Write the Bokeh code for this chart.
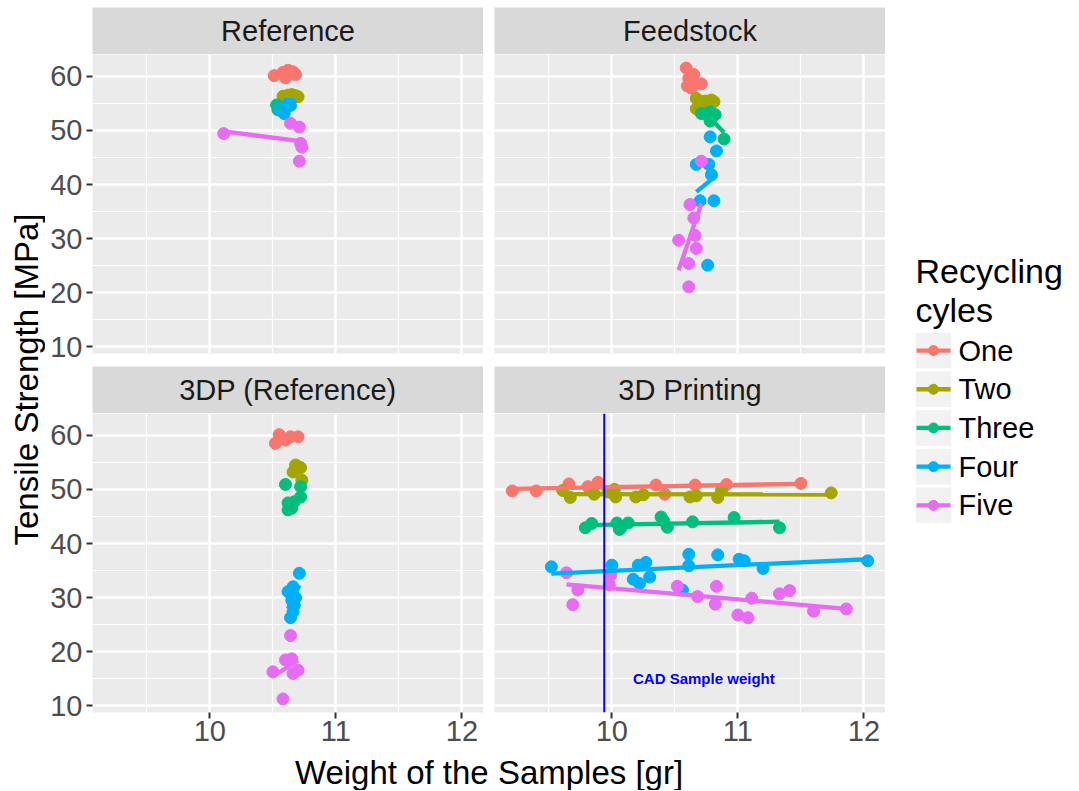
import numpy as np
from bokeh.plotting import figure
from bokeh.layouts import row, column
from bokeh.models import Range1d, FixedTicker, Span
from bokeh.core.properties import value
from bokeh.embed import file_html
from bokeh.resources import INLINE

# ---------------- data ----------------
cycles = ["One", "Two", "Three", "Four", "Five"]
cycle_colors = ["#F8766D", "#A3A500", "#00BF7D", "#00B0F6", "#E76BF3"]
panel_titles = ["Reference", "Feedstock", "3DP (Reference)", "3D Printing"]
x_ticks = [10, 11, 12]
x_minor = [9.5, 10.5, 11.5]
y_ticks = [10, 20, 30, 40, 50, 60]
y_minor = [15, 25, 35, 45, 55]
cad_weight = 9.94
cad_label = "CAD Sample weight"
cad_label_x = 10.73
cad_label_y = 15.0
x_title = "Weight of the Samples [gr]"
y_title = "Tensile Strength [MPa]"
legend_title = ["Recycling", "cyles"]

reference_w = {
    "One": [10.51, 10.58, 10.60, 10.62, 10.66, 10.68, 10.64],
    "Two": [10.58, 10.62, 10.65, 10.68, 10.70, 10.66],
    "Three": [10.53, 10.54, 10.56],
    "Four": [10.55, 10.58, 10.60, 10.63, 10.64, 10.59],
    "Five": [10.11, 10.64, 10.71, 10.72, 10.73, 10.71],
}
reference_s = {
    "One": [60.1, 60.7, 59.7, 61.1, 60.8, 60.3, 60.9],
    "Two": [56.3, 56.5, 56.6, 56.4, 56.2, 56.1],
    "Three": [54.7, 53.8, 54.2],
    "Four": [54.0, 53.4, 54.3, 55.3, 54.6, 53.1],
    "Five": [49.4, 51.3, 50.6, 47.6, 46.9, 44.3],
}
feedstock_w = {
    "One": [10.59, 10.65, 10.61, 10.60, 10.71, 10.65, 10.63],
    "Two": [10.67, 10.74, 10.79, 10.81, 10.67, 10.72],
    "Three": [10.71, 10.78, 10.82, 10.78, 10.89, 10.74],
    "Four": [10.78, 10.83, 10.67, 10.77, 10.79, 10.70, 10.81, 10.76],
    "Five": [10.71, 10.62, 10.65, 10.66, 10.53, 10.67, 10.61, 10.61],
}
feedstock_s = {
    "One": [61.5, 60.3, 59.6, 58.2, 58.6, 58.5, 57.8],
    "Two": [55.9, 55.4, 55.6, 55.3, 54.0, 54.3],
    "Three": [53.1, 53.4, 52.9, 51.7, 48.4, 53.0],
    "Four": [48.8, 46.2, 43.7, 43.7, 41.8, 37.0, 37.0, 25.1],
    "Five": [44.3, 36.3, 33.8, 30.6, 29.7, 28.2, 25.4, 21.1],
}
dp_ref_w = {
    "One": [10.55, 10.52, 10.60, 10.64, 10.70, 10.58],
    "Two": [10.68, 10.72, 10.66, 10.73, 10.70],
    "Three": [10.60, 10.72, 10.72, 10.62, 10.67, 10.62, 10.65, 10.64],
    "Four": [10.71, 10.62, 10.66, 10.68, 10.67, 10.66, 10.64, 10.65],
    "Five": [10.64, 10.60, 10.65, 10.70, 10.50, 10.66, 10.58],
}
dp_ref_s = {
    "One": [60.1, 58.5, 59.1, 59.7, 59.7, 59.4],
    "Two": [54.5, 54.0, 53.2, 51.7, 54.2],
    "Three": [50.9, 50.5, 48.6, 47.5, 47.7, 46.2, 46.5, 47.0],
    "Four": [34.5, 31.1, 32.0, 30.0, 28.6, 27.4, 26.3, 29.5],
    "Five": [23.0, 18.5, 18.7, 16.6, 16.3, 16.0, 11.3],
}
printing_w = {
    "One": [9.21, 9.40, 9.66, 9.81, 9.89, 10.35, 10.42, 10.66, 10.91, 11.50],
    "Two": [9.61, 9.67, 9.86, 9.97, 10.02, 10.03, 10.19, 10.25, 10.62, 10.67, 10.84, 10.87, 11.74],
    "Three": [9.79, 9.84, 10.04, 10.06, 10.07, 10.13, 10.39, 10.41, 10.44, 10.64, 10.97, 11.33],
    "Four": [9.52, 10.00, 10.21, 10.27, 10.17, 10.22, 10.30, 10.56, 10.61, 10.61, 10.84, 11.01, 11.05, 11.20, 12.03],
    "Five": [9.64, 9.73, 9.69, 9.99, 9.98, 10.52, 10.68, 10.83, 10.82, 11.00, 11.08, 11.11, 11.33, 11.41, 11.60, 11.86],
}
printing_s = {
    "One": [49.7, 49.7, 51.0, 50.5, 51.3, 50.8, 49.1, 50.8, 50.9, 51.1],
    "Two": [49.8, 48.5, 49.1, 49.5, 50.0, 48.6, 48.6, 49.0, 48.6, 48.8, 48.5, 49.8, 49.35],
    "Three": [42.9, 43.7, 43.8, 42.6, 42.8, 43.8, 44.9, 44.2, 43.0, 44.0, 44.8, 42.9],
    "Four": [35.7, 36.0, 36.0, 36.5, 33.4, 32.6, 33.8, 31.4, 38.0, 35.9, 37.9, 37.1, 36.8, 35.4, 36.8],
    "Five": [34.6, 31.4, 28.7, 34.1, 32.4, 32.1, 30.2, 32.1, 28.8, 26.8, 26.3, 29.9, 30.7, 31.3, 27.5, 27.9],
}

panels_w = [reference_w, feedstock_w, dp_ref_w, printing_w]
panels_s = [reference_s, feedstock_s, dp_ref_s, printing_s]

# ---------------- layout constants (page pixels) ----------------
FONT = "Liberation Sans"
FRAME_W, FRAME_H = 391, 299
TOP_PAD = 7
STRIP_H = 47
LEFT_B = 47
GAP_H = 11
GAP_V = 13
XAX_H = 41
XT_H = 37
YT_W = 45
LEG_W = 193
TOTAL_H = TOP_PAD + STRIP_H * 2 + FRAME_H * 2 + GAP_V + XAX_H + XT_H

# ggplot-like 5% expansion of the shared scales
all_w = np.concatenate([np.array(d[c]) for d in panels_w for c in cycles])
all_s = np.concatenate([np.array(d[c]) for d in panels_s for c in cycles])
xpad = 0.05 * (all_w.max() - all_w.min())
ypad = 0.05 * (all_s.max() - all_s.min())
X0, X1 = all_w.min() - xpad, all_w.max() + xpad
Y0, Y1 = all_s.min() - ypad, all_s.max() + ypad


def style_grid(p):
    p.xgrid.ticker = FixedTicker(ticks=x_ticks, minor_ticks=x_minor)
    p.ygrid.ticker = FixedTicker(ticks=y_ticks, minor_ticks=y_minor)
    for g in (p.xgrid, p.ygrid):
        g.grid_line_color = "white"
        g.grid_line_width = 2.4
        g.minor_grid_line_color = "white"
        g.minor_grid_line_width = 1.2


def style_axis(ax, standoff):
    ax.major_label_text_font = FONT
    ax.major_label_text_font_size = "29px"
    ax.major_label_text_color = "#4D4D4D"
    ax.major_tick_line_color = "#333333"
    ax.major_tick_line_width = 2
    ax.major_tick_out = 6
    ax.major_tick_in = 0
    ax.minor_tick_line_color = None
    ax.axis_line_color = None
    ax.major_label_standoff = standoff


def make_panel(idx, show_x, show_y, cad=False):
    left_b = LEFT_B if show_y else GAP_H
    bottom_b = XAX_H if show_x else GAP_V
    p = figure(width=left_b + FRAME_W, height=FRAME_H + bottom_b,
               x_range=Range1d(X0, X1), y_range=Range1d(Y0, Y1),
               x_axis_location="below" if show_x else None,
               y_axis_location="left" if show_y else None,
               output_backend="svg", toolbar_location=None, title=None,
               min_border=0, min_border_left=left_b, min_border_bottom=bottom_b,
               min_border_top=0, min_border_right=0,
               background_fill_color="#EBEBEB", border_fill_color="white",
               outline_line_color=None)
    style_grid(p)
    if show_x:
        p.xaxis.ticker = FixedTicker(ticks=x_ticks, minor_ticks=x_minor)
        style_axis(p.xaxis, 2)
    if show_y:
        p.yaxis.ticker = FixedTicker(ticks=y_ticks, minor_ticks=y_minor)
        style_axis(p.yaxis, 4)
    wd, sd = panels_w[idx], panels_s[idx]
    for c, col in zip(cycles, cycle_colors):
        p.scatter(wd[c], sd[c], size=12, fill_color=col, line_color=col)
    for c, col in zip(cycles, cycle_colors):
        x = np.array(wd[c])
        y = np.array(sd[c])
        k, b = np.polyfit(x, y, 1)
        xs = np.array([x.min(), x.max()])
        p.line(xs, k * xs + b, line_color=col, line_width=4.3)
    if cad:
        p.add_layout(Span(location=cad_weight, dimension="height",
                          line_color="blue", line_width=2))
        p.text(x=[cad_label_x], y=[cad_label_y], text=[cad_label],
               text_color="blue", text_font=value(FONT), text_font_style="bold",
               text_font_size="15px", text_align="center", text_baseline="middle")
    return p


def make_strip(label, left_b, top_b):
    p = figure(width=left_b + FRAME_W, height=STRIP_H + top_b,
               x_range=Range1d(0, 1), y_range=Range1d(0, 1),
               x_axis_location=None, y_axis_location=None,
               output_backend="svg", toolbar_location=None, title=None,
               min_border=0, min_border_left=left_b, min_border_right=0,
               min_border_top=top_b, min_border_bottom=0,
               background_fill_color="#D9D9D9", border_fill_color="white",
               outline_line_color=None)
    p.grid.visible = False
    p.text(x=[0.5], y=[0.5], text=[label], text_color="#1A1A1A",
           text_font=value(FONT), text_font_size="29px",
           text_align="center", text_baseline="middle")
    return p


def blank(width, height, xr, yr):
    p = figure(width=width, height=height, x_range=xr, y_range=yr,
               x_axis_location=None, y_axis_location=None,
               output_backend="svg", toolbar_location=None, title=None,
               min_border=0, min_border_left=0, min_border_right=0,
               min_border_top=0, min_border_bottom=0,
               background_fill_color="white", border_fill_color="white",
               outline_line_color=None)
    p.grid.visible = False
    return p


strip_tl = make_strip(panel_titles[0], LEFT_B, TOP_PAD)
strip_tr = make_strip(panel_titles[1], GAP_H, TOP_PAD)
strip_bl = make_strip(panel_titles[2], LEFT_B, 0)
strip_br = make_strip(panel_titles[3], GAP_H, 0)
p_tl = make_panel(0, False, True)
p_tr = make_panel(1, False, False)
p_bl = make_panel(2, True, True)
p_br = make_panel(3, True, False, cad=True)

# x title
XT_W = LEFT_B + FRAME_W + GAP_H + FRAME_W
xt = blank(XT_W, XT_H, Range1d(0, XT_W), Range1d(0, XT_H))
xt.text(x=[LEFT_B + (FRAME_W * 2 + GAP_H) / 2], y=[XT_H / 2], text=[x_title],
        text_color="black", text_font=value(FONT), text_font_size="33px",
        text_align="center", text_baseline="middle")

# y title
yt = blank(YT_W, TOTAL_H, Range1d(0, YT_W), Range1d(TOTAL_H, 0))
yt.text(x=[26], y=[379], text=[y_title], angle=np.pi / 2,
        text_color="black", text_font=value(FONT), text_font_size="33px",
        text_align="center", text_baseline="middle")

# legend (drawn as its own small panel, y grows downward)
lg = blank(LEG_W, TOTAL_H, Range1d(0, LEG_W), Range1d(TOTAL_H, 0))
KEY = 35.5
STEP = 38.7
key_y = [332.3 + KEY / 2 + i * STEP for i in range(len(cycles))]
key_x = [48.0] * len(cycles)
lg.rect(x=key_x, y=key_y, width=KEY, height=KEY, fill_color="#F2F2F2", line_color=None)
lg.segment(x0=[31.0] * len(cycles), y0=key_y, x1=[65.0] * len(cycles), y1=key_y,
           line_color=cycle_colors, line_width=4.3)
lg.scatter(x=key_x, y=key_y, size=10, fill_color=cycle_colors, line_color=cycle_colors)
lg.text(x=[73.0] * len(cycles), y=key_y, text=cycles, text_color="black",
        text_font=value(FONT), text_font_size="29px",
        text_align="left", text_baseline="middle")
lg.text(x=[30, 30], y=[270, 309], text=legend_title, text_color="black",
        text_font=value(FONT), text_font_size="34px",
        text_align="left", text_baseline="middle")

grid_col = column(
    row(strip_tl, strip_tr),
    row(p_tl, p_tr),
    row(strip_bl, strip_br),
    row(p_bl, p_br),
    xt,
)
layout = row(yt, grid_col, lg)

open("out.html", "w").write(file_html(layout, INLINE))
